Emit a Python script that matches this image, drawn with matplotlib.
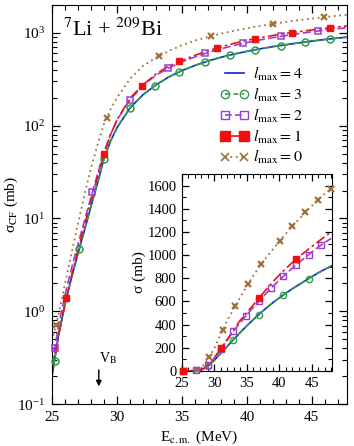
import matplotlib
matplotlib.use('Agg')
import matplotlib.pyplot as plt
from matplotlib.lines import Line2D
from matplotlib.ticker import MultipleLocator, LogLocator, NullFormatter

plt.rcParams['font.family'] = ['Liberation Serif', 'DejaVu Serif']
plt.rcParams['mathtext.fontset'] = 'stix'

#==============================================================================#
#                 Data (E_cm in MeV, sigma in mb)
#==============================================================================#
E_line = [25.0, 25.5, 26.0, 26.5, 27.0, 27.5, 28.0, 28.5, 29.0, 29.5, 30.0,
          31.0, 32.0, 33.0, 34.0, 35.0, 36.0, 37.0, 38.0, 39.0, 40.0,
          41.0, 42.0, 43.0, 44.0, 45.0, 46.0, 47.0, 48.0]
sig_l4 = [0.20, 0.55, 1.2, 2.3, 4.2, 7.5, 13.5, 24, 44, 68, 95,
          155, 215, 275, 335, 392, 445, 497, 545, 590, 632,
          672, 710, 745, 780, 815, 848, 878, 906]
sig_l3 = [0.20, 0.55, 1.2, 2.3, 4.2, 7.5, 13.5, 24, 44, 68, 95,
          155, 215, 275, 335, 392, 445, 497, 545, 590, 632,
          672, 710, 745, 780, 815, 848, 878, 906]
sig_l2 = [0.27, 0.70, 1.5, 2.9, 5.3, 9.5, 17, 30, 52, 80, 115,
          190, 270, 350, 420, 487, 550, 612, 672, 730, 785,
          838, 888, 935, 982, 1027, 1070, 1110, 1145]
sig_l1 = [0.22, 0.55, 1.2, 2.4, 4.6, 8.5, 15.5, 28, 50, 80, 115,
          198, 275, 360, 440, 505, 572, 640, 705, 770, 830,
          885, 937, 985, 1030, 1075, 1118, 1160, 1200]
sig_l0 = [0.48, 0.92, 2.0, 4.2, 8.8, 18, 35, 62, 105, 150, 200,
          320, 440, 540, 640, 735, 825, 905, 980, 1050, 1120,
          1185, 1250, 1310, 1370, 1425, 1480, 1530, 1575]

# symbols
E_l3_mk = [25.2, 27.1, 29.0, 31.0, 32.9, 34.8, 36.8, 38.7, 40.6, 42.6, 44.5, 46.4]
s_l3_mk = [0.29, 4.7, 44, 155, 270, 383, 487, 577, 657, 728, 797, 860]

E_l2_mk = [25.2, 28.1, 31.0, 33.9, 36.8, 39.7, 42.6, 45.5]
s_l2_mk = [0.40, 19.1, 190, 413, 600, 769, 916, 1048]
E_l2_in = [25.2, 27.1, 29.0, 31.0, 32.9, 34.8, 36.8, 38.7, 40.6, 42.6, 44.5, 46.4]
s_l2_in = [0.40, 6.0, 52, 190, 342, 474, 600, 713, 817, 916, 1004, 1086]

E_l1_mk = [26.1, 29.0, 31.9, 34.8, 37.7, 40.6, 43.5, 46.4]
s_l1_mk = [1.38, 50, 267, 492, 685, 863, 1008, 1135]
E_l1_in = [25.2, 31.0, 36.8, 42.6]
s_l1_in = [0.33, 198, 626, 966]

E_l0_mk = [25.3, 27.3, 29.2, 31.3, 33.2, 35.2, 37.2, 40.1, 42.0, 44.0, 45.9, 47.9]
s_l0_mk = [0.72, 13.5, 121, 356, 560, 753, 920, 1126, 1250, 1370, 1475, 1570]

V_B = 28.6

#==============================================================================#
#                               Styles
#==============================================================================#
c4, c3, c2, c1, c0 = '#1020d8', '#2e9e4a', '#9a3fd0', '#f01010', '#a5713a'
ls3 = (0, (4, 2))
ls2 = (0, (5, 2))
ls1 = (0, (6, 2, 1.5, 2))
ls0 = (0, (1, 2))

fig = plt.figure(figsize=(3.54, 4.46), dpi=100)
ax = fig.add_axes([0.147, 0.094, 0.833, 0.895])


def draw(a, ms, main=True):
    a.plot(E_line, sig_l0, color=c0, ls=ls0, lw=1.3)
    a.plot(E_line, sig_l4, color=c4, ls='-', lw=1.2)
    a.plot(E_line, sig_l3, color=c3, ls=ls3, lw=1.2)
    a.plot(E_line, sig_l2, color=c2, ls=ls2, lw=1.2)
    a.plot(E_line, sig_l1, color=c1, ls=ls1, lw=1.2)
    kw = dict(ls='none', ms=ms, clip_on=False, zorder=5)
    if main:
        a.plot(E_l3_mk, s_l3_mk, marker='o', mfc='none', mec=c3, mew=1.1, **kw)
        a.plot(E_l2_mk, s_l2_mk, marker='s', mfc='none', mec=c2, mew=1.1, **kw)
        a.plot(E_l1_mk, s_l1_mk, marker='s', mfc=c1, mec=c1, **kw)
        a.plot(E_l0_mk[::2], s_l0_mk[::2], marker='x', mec=c0, mew=1.6, **kw)
    else:
        a.plot(E_l0_mk, s_l0_mk, marker='x', mec=c0, mew=1.6, **kw)
        a.plot(E_l3_mk[::2], s_l3_mk[::2], marker='o', mfc='none', mec=c3, mew=1.0, **kw)
        a.plot(E_l2_in, s_l2_in, marker='s', mfc='none', mec=c2, mew=1.0, **kw)
        a.plot(E_l1_in, s_l1_in, marker='s', mfc=c1, mec=c1, **kw)


draw(ax, 5, main=True)
ax.set_yscale('log')
ax.set_xlim(25, 47.7)
ax.set_ylim(0.1, 2000)
ax.xaxis.set_major_locator(MultipleLocator(5))
ax.xaxis.set_minor_locator(MultipleLocator(1))
ax.yaxis.set_major_locator(LogLocator(base=10, numticks=10))
ax.yaxis.set_minor_locator(LogLocator(base=10, subs=range(2, 10), numticks=20))
ax.yaxis.set_minor_formatter(NullFormatter())
ax.tick_params(which='both', direction='in', top=True, right=True, labelsize=11, pad=5)
ax.tick_params(which='major', length=6, width=0.9)
ax.tick_params(which='minor', length=3.5, width=0.8)
ax.set_xlabel(r'E$_{\rm c.m.}$ (MeV)', fontsize=11, labelpad=3)
ax.set_ylabel(r'σ$_{\rm CF}$ (mb)', fontsize=11)
ax.yaxis.set_label_coords(-0.108, 0.5)

fig.text(63 / 354, 1 - 36 / 446, r'$^{7}$Li + $^{209}$Bi', fontsize=16,
         va='baseline', ha='left')

ax.annotate('', xy=(V_B, 0.145), xytext=(V_B, 0.25),
            arrowprops=dict(arrowstyle='-|>', color='k', lw=1, mutation_scale=8))
ax.text(V_B + 0.05, 0.255, r'V$_{\rm B}$', fontsize=10, ha='left', va='bottom')

handles = [
    Line2D([], [], color=c4, ls='-', lw=1.2),
    Line2D([], [], color=c3, ls=(0, (3, 2)), lw=1.2, marker='o', mfc='none', mec=c3, ms=6),
    Line2D([], [], color=c2, ls=(0, (4, 2)), lw=1.2, marker='s', mfc='none', mec=c2, ms=6),
    Line2D([], [], color=c1, ls='-', lw=1.2, marker='s', mfc=c1, mec=c1, ms=6.5),
    Line2D([], [], color=c0, ls=(0, (1, 2)), lw=1.3, marker='x', mec=c0, mew=1.2, ms=6),
]
labels = [r'$l_{\rm max} = %d$' % k for k in (4, 3, 2, 1, 0)]
fig.legend(handles, labels, loc='upper left', bbox_to_anchor=(0.600, 0.872),
           bbox_transform=fig.transFigure, frameon=False, fontsize=11.5,
           handlelength=1.75, handletextpad=0.3, labelspacing=0.17,
           borderpad=0, numpoints=2)

#==============================================================================#
#                               Inset
#==============================================================================#
ins = fig.add_axes([0.514, 0.168, 0.424, 0.442])
draw(ins, 4.5, main=False)
ins.set_xlim(25, 48.1)
ins.set_ylim(0, 1700)
ins.xaxis.set_major_locator(MultipleLocator(5))
ins.xaxis.set_minor_locator(MultipleLocator(1))
ins.yaxis.set_major_locator(MultipleLocator(200))
ins.yaxis.set_minor_locator(MultipleLocator(100))
ins.tick_params(which='both', direction='in', top=True, right=True, labelsize=10.5, pad=4)
ins.tick_params(which='major', length=5, width=0.9)
ins.tick_params(which='minor', length=3, width=0.8)
ins.set_ylabel('σ (mb)', fontsize=11, labelpad=1)

plt.savefig('out.png', dpi=100)
